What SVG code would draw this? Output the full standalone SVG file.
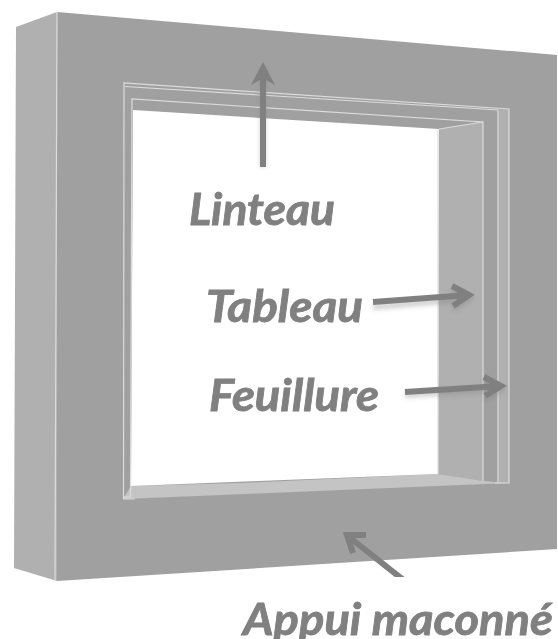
<svg xmlns="http://www.w3.org/2000/svg" width="558" height="639" viewBox="0 0 558 639">
<style>
.fr{fill:none;stroke:#dcdcdc;stroke-width:1.2}
.lbl{font-family:"Lato","Open Sans","Liberation Sans",sans-serif;font-weight:700;font-style:italic;fill:#808080;stroke:#808080;stroke-width:.8;font-size:43px}
.arr{fill:none;stroke:#808080;stroke-width:6}
</style>
<defs>
<filter id="s" x="-30%" y="-30%" width="160%" height="160%"><feGaussianBlur stdDeviation="2"/></filter>
<filter id="soft" x="-2%" y="-2%" width="104%" height="104%"><feGaussianBlur stdDeviation="0.5"/></filter>
<clipPath id="c"><rect x="300" y="500" width="200" height="77"/></clipPath>
</defs>
<rect width="558" height="639" fill="#fff"/>
<g id="mur" filter="url(#soft)">
<polygon points="16,27 57,12 57,581 14,568" fill="#b0b0b0"/>
<polygon points="57,12 557,55 557,549 57,581" fill="#a0a0a0"/>
<polygon points="438,129 483,122 483,481 438,474" fill="#b0b0b0"/>
<polygon points="498,110 509,109 509,483 498,482" fill="#b0b0b0"/>
<polygon points="131,486 240,483 438,474 483,481 509,483 123,499" fill="#c4c4c4"/>
<polygon points="133,110 439,129 438,474 131,486" fill="#fff"/>
<line x1="57" y1="12" x2="55" y2="581" class="fr"/>
<polyline points="135,499 123.500,499 124,83 509,109 509,483 495,483" class="fr"/>
<polyline points="125,86.500 498,110 498,482" class="fr"/>
<polyline points="123.500,497 130.500,497 132,99 483,122 483,481" class="fr"/>
<line x1="439" y1="129" x2="483" y2="122" class="fr"/>
<line x1="438" y1="130" x2="438" y2="474" class="fr"/>
</g>
<g id="connecteurs">
<g opacity=".35" filter="url(#s)">
<path d="M263 167V70" class="arr"/>
<path d="M373 304L468 296M452 287L469 296L453 306" class="arr" transform="translate(0,3)"/>
<path d="M405 392L500 386M484 377L501 386L485 396" class="arr" transform="translate(0,3)"/>
</g>
<polygon points="260,167 260,80 251,85 263,62 275,85 266,80 266,167" fill="#808080"/>
<path d="M373 302L468 295M452 286L469 295L453 306" class="arr"/>
<path d="M405 392L500 386M484 377L501 386L485 396" class="arr"/>
<g clip-path="url(#c)"><path d="M349 537L406 582M366 535L347 535L353 553" class="arr"/></g>
</g>
<g id="linteau"><text x="189" y="225" class="lbl" textLength="146" lengthAdjust="spacingAndGlyphs">Linteau</text></g>
<g id="tableau"><text x="206" y="322" class="lbl" textLength="157" lengthAdjust="spacingAndGlyphs">Tableau</text></g>
<g id="feuillure"><text x="209" y="411" class="lbl" textLength="170" lengthAdjust="spacingAndGlyphs">Feuillure</text></g>
<g id="appui"><text x="243" y="635" class="lbl" textLength="310" lengthAdjust="spacingAndGlyphs">Appui maconné</text></g>
</svg>
